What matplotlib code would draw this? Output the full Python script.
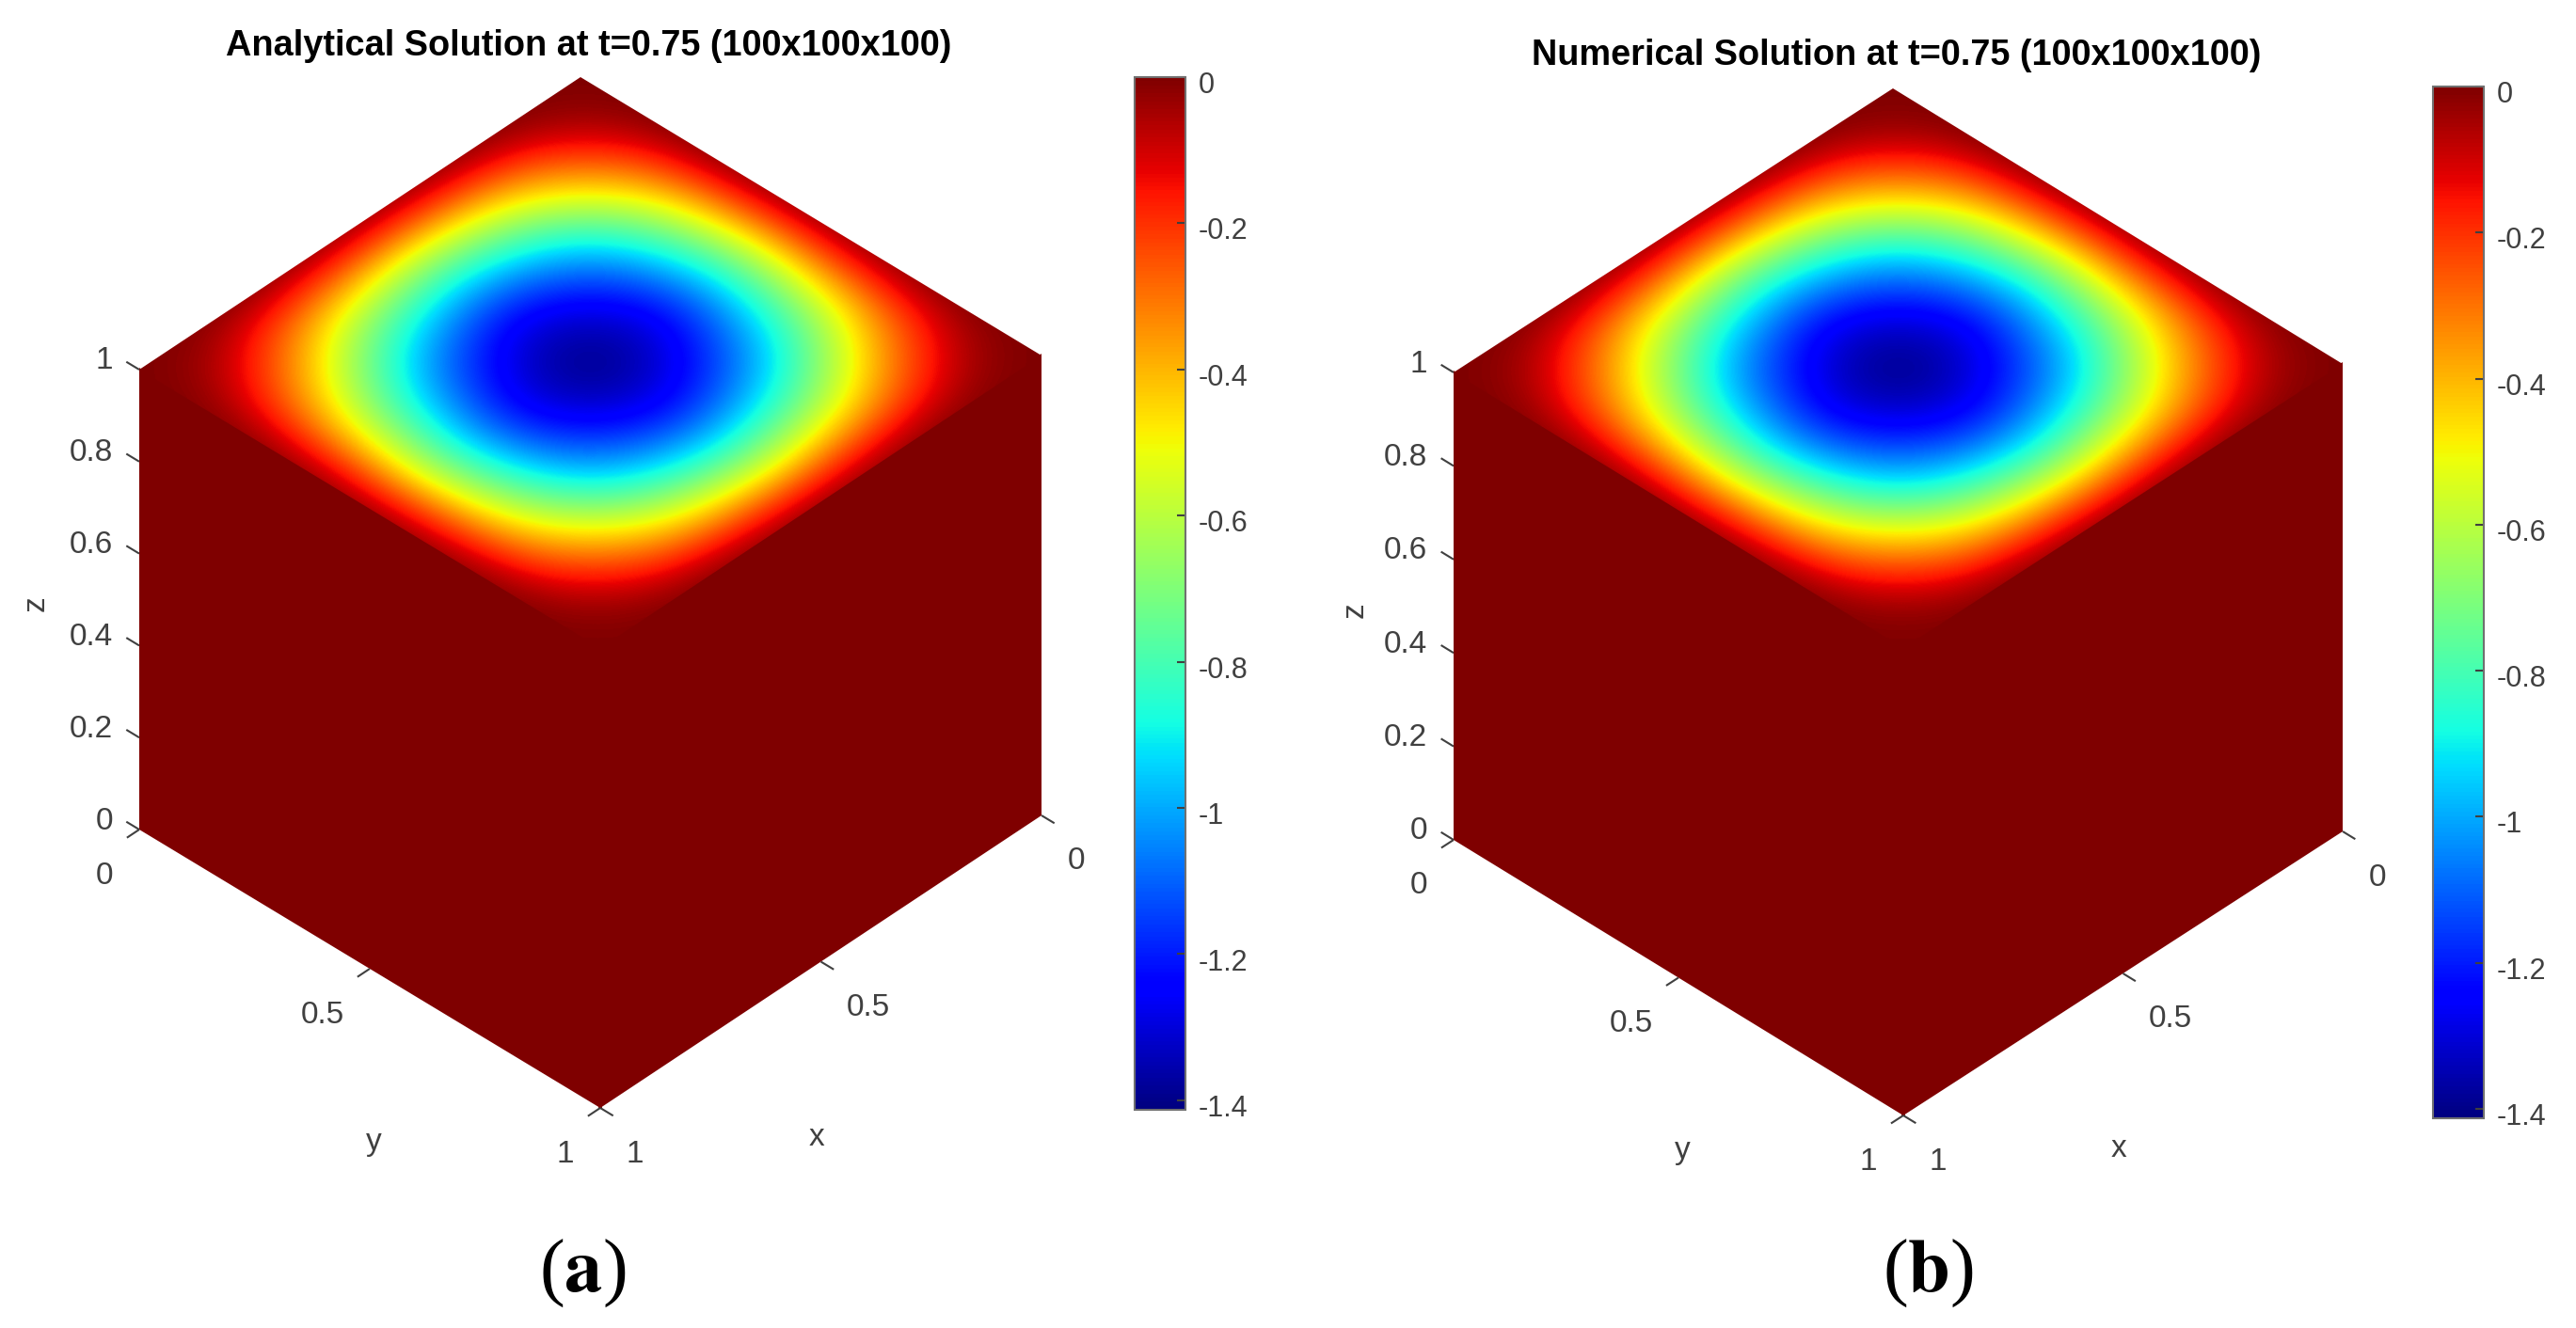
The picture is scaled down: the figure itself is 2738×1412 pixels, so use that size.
import numpy as np
import matplotlib
matplotlib.use("Agg")
import matplotlib.pyplot as plt
from matplotlib.cm import ScalarMappable
from matplotlib.colors import Normalize
from matplotlib.patches import Polygon
from matplotlib.transforms import Affine2D, ScaledTranslation

plt.rcParams['font.family'] = ['Liberation Sans', 'DejaVu Sans']
plt.rcParams['axes.unicode_minus'] = False
plt.rcParams['mathtext.fontset'] = 'stix'

W, H = 2738, 1412
TICK_GREY = '#404040'

analytical_top = [
    [0.00,  0.00,  0.00,  0.00,  0.00,  0.00,  0.00,  0.00,  0.00,  0.00, 0.00],
    [0.00, -0.08, -0.24, -0.36, -0.43, -0.47, -0.43, -0.36, -0.24, -0.08, 0.00],
    [0.00, -0.24, -0.47, -0.69, -0.82, -0.87, -0.82, -0.69, -0.47, -0.24, 0.00],
    [0.00, -0.36, -0.69, -0.95, -1.10, -1.17, -1.10, -0.95, -0.69, -0.36, 0.00],
    [0.00, -0.43, -0.82, -1.10, -1.27, -1.35, -1.27, -1.10, -0.82, -0.43, 0.00],
    [0.00, -0.47, -0.87, -1.17, -1.35, -1.41, -1.35, -1.17, -0.87, -0.47, 0.00],
    [0.00, -0.43, -0.82, -1.10, -1.27, -1.35, -1.27, -1.10, -0.82, -0.43, 0.00],
    [0.00, -0.36, -0.69, -0.95, -1.10, -1.17, -1.10, -0.95, -0.69, -0.36, 0.00],
    [0.00, -0.24, -0.47, -0.69, -0.82, -0.87, -0.82, -0.69, -0.47, -0.24, 0.00],
    [0.00, -0.08, -0.24, -0.36, -0.43, -0.47, -0.43, -0.36, -0.24, -0.08, 0.00],
    [0.00,  0.00,  0.00,  0.00,  0.00,  0.00,  0.00,  0.00,  0.00,  0.00, 0.00],
]
numerical_top = analytical_top

# Las caras laterales valen 0 en todo el cubo
side_values = [[0.0, 0.0], [0.0, 0.0]]

xy_ticks = [0, 0.5, 1]
xy_labels = ['0', '0.5', '1']
z_ticks = [0, 0.2, 0.4, 0.6, 0.8, 1]
z_labels = ['0', '0.2', '0.4', '0.6', '0.8', '1']
cbar_ticks = [-1.4, -1.2, -1, -0.8, -0.6, -0.4, -0.2, 0]
cbar_labels = ['-1.4', '-1.2', '-1', '-0.8', '-0.6', '-0.4', '-0.2', '0']
cbar_min, cbar_max = -1.413, 0

titles = ['Analytical Solution at t=0.75 (100x100x100)',
          'Numerical Solution at t=0.75 (100x100x100)']
captions = [r'($\mathbf{a}$)', r'($\mathbf{b}$)']

# Proyeccion de cada cubo en pixeles: origen (0,0,0) y vectores de los ejes
panels = [
    dict(o=(617, 571), ex=(-469, 311), ey=(490, 296), ez=(0, -489),
         cbar=(1206, 82, 1260, 1180), title=(626, 49), caption=(619, 1354), zlab_x=38),
    dict(o=(2012, 591), ex=(-467, 302), ey=(478, 293), ez=(0, -497),
         cbar=(2586, 92, 2640, 1189), title=(2016, 59), caption=(2049, 1354), zlab_x=1440),
]

norm = Normalize(cbar_min, cbar_max)


def project(p, x, y, z):
    return (p['o'][0] + x * p['ex'][0] + y * p['ey'][0] + z * p['ez'][0],
            p['o'][1] + x * p['ex'][1] + y * p['ey'][1] + z * p['ez'][1])


def draw_face(ax, values, origin, u, v, overlap=0.0):
    # overlap: las caras laterales se meten un poco bajo la vecina para tapar la junta
    values = np.array(values)
    pad = 0.5 / (values.shape[0] - 1)
    tr = Affine2D.from_values(u[0], u[1], v[0], v[1], origin[0], origin[1]) + ax.transData
    im = ax.imshow(values, cmap='jet', norm=norm, origin='lower', aspect='auto',
                   extent=(-pad, 1 + pad, -pad, 1 + pad), interpolation='bicubic',
                   interpolation_stage='data')
    im.set_transform(tr)
    end = 1 + overlap
    im.set_clip_path(Polygon([(0, 0), (end, 0), (end, end), (0, end)], transform=tr))


def tick(ax, p, start, direction):
    # las marcas salen en la direccion de otro eje, como en MATLAB
    x0, y0 = project(p, *start)
    x1, y1 = project(p, start[0] + direction[0], start[1] + direction[1], start[2])
    ax.plot([x0, x1], [y0, y1], color=TICK_GREY, lw=1.5, solid_capstyle='butt')


fig = plt.figure(figsize=(W / 100, H / 100), dpi=100)
ax = fig.add_axes([0, 0, 1, 1])

for p, top, title, caption in zip(panels, [analytical_top, numerical_top], titles, captions):
    draw_face(ax, side_values, project(p, 1, 0, 0), p['ey'], p['ez'], overlap=0.004)
    draw_face(ax, side_values, project(p, 0, 1, 0), p['ex'], p['ez'], overlap=0.004)
    draw_face(ax, top, project(p, 0, 0, 1), p['ex'], p['ey'])

    # eje z en la arista x=1, y=0
    for val, lab in zip(z_ticks, z_labels):
        tick(ax, p, (1, 0, val), (0, -0.028))
        px, py = project(p, 1, 0, val)
        ax.text(px - 28, py - 9, lab, ha='right', va='center', fontsize=24, color=TICK_GREY)

    # ejes x e y en las aristas inferiores
    for val, lab in zip(xy_ticks, xy_labels):
        tick(ax, p, (1, val, 0), (0.028, 0))
        tick(ax, p, (val, 1, 0), (0, 0.028))
        shift = 50 if lab == '0.5' else 37
        px, py = project(p, 1, val, 0)
        ax.text(px - shift, py + 49, lab, ha='center', va='center', fontsize=24, color=TICK_GREY)
        px, py = project(p, val, 1, 0)
        ax.text(px + shift, py + 49, lab, ha='center', va='center', fontsize=24, color=TICK_GREY)

    px, py = project(p, 1, 0.5, 0)
    ax.text(px + 4, py + 184, 'y', ha='center', va='center', fontsize=24, color=TICK_GREY)
    px, py = project(p, 0.5, 1, 0)
    ax.text(px - 4, py + 187, 'x', ha='center', va='center', fontsize=24, color=TICK_GREY)
    ax.text(p['zlab_x'], project(p, 1, 0, 0.5)[1] + 4, 'z', rotation=90, ha='center', va='center',
            fontsize=24, color=TICK_GREY)

    ax.text(p['title'][0], p['title'][1], title, ha='center', va='center', fontsize=27.3,
            fontweight='bold', color='black')
    ax.text(p['caption'][0], p['caption'][1], caption, ha='center', va='center', fontsize=58,
            family=['Liberation Serif', 'DejaVu Serif'], color='black')

    # barra de color
    x0, y0, x1, y1 = p['cbar']
    cax = fig.add_axes([x0 / W, 1 - y1 / H, (x1 - x0) / W, (y1 - y0) / H])
    cb = fig.colorbar(ScalarMappable(norm=norm, cmap='jet'), cax=cax, ticks=cbar_ticks)
    cb.ax.set_yticklabels(cbar_labels)
    cb.ax.tick_params(direction='in', length=6.5, width=1.5, color=TICK_GREY,
                      labelcolor=TICK_GREY, labelsize=22, pad=10)
    offset = ScaledTranslation(0, -4 / 72, fig.dpi_scale_trans)
    for lab in cb.ax.get_yticklabels():
        lab.set_transform(lab.get_transform() + offset)
    cb.outline.set_edgecolor('#707070')
    cb.outline.set_linewidth(1.5)

ax.set_xlim(0, W)
ax.set_ylim(H, 0)
ax.axis('off')

fig.savefig('out.png', dpi=100)
